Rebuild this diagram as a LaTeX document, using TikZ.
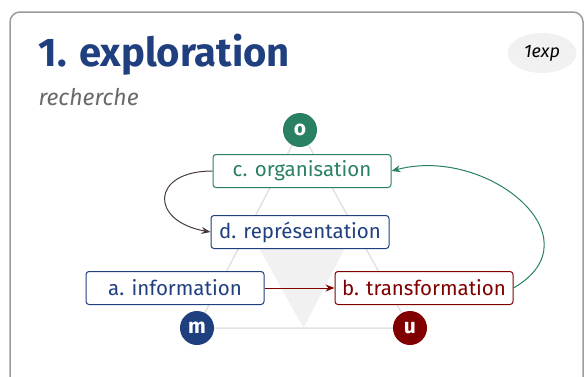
\documentclass[tikz,border=0pt]{standalone}
\usepackage{fontspec}
\setmainfont{Fira Sans}
\usetikzlibrary{arrows.meta,shapes.geometric,calc}
\definecolor{cardgray}{HTML}{9C9C9C}
\definecolor{trigray}{HTML}{E2E2E2}
\definecolor{fillgray}{HTML}{F1F1F1}
\definecolor{inkblue}{HTML}{1F3F7F}
\definecolor{inkgreen}{HTML}{2A8063}
\definecolor{inkred}{HTML}{800000}
\definecolor{inkbrown}{HTML}{4A3A3A}
\definecolor{subgray}{HTML}{6A6A6A}

\tikzset{
  stage/.style={draw, fill=white, rounded corners=3pt, line width=1pt,
    minimum width=178pt, minimum height=33pt, inner sep=0pt,
    font=\fontsize{20.5}{24}\selectfont},
  pole/.style={circle, minimum size=34pt, inner sep=0pt, text=white,
    font=\bfseries\fontsize{21}{24}\selectfont},
  link/.style={line width=1pt, -{Stealth[length=9pt,width=7pt]}},
}

\begin{document}
\begin{tikzpicture}[x=1pt, y=-1pt]
  \useasboundingbox (0,0) rectangle (584,376);
  \clip (0,0) rectangle (584,376);
  \draw[cardgray, line width=1.5pt, rounded corners=10pt] (10,12) rectangle (583,395);

  \node[anchor=base west, inkblue, font=\bfseries\fontsize{40}{46}\selectfont] (title) at (35,66) {1. exploration};
  \node[anchor=base west, subgray, font=\itshape\fontsize{23}{27}\selectfont] (sub) at (35,105) {recherche};
  \node[ellipse, fill=fillgray, minimum width=69pt, minimum height=40pt, inner sep=0pt,
        font=\itshape\fontsize{18}{20}\selectfont] (tag) at (542,53) {1exp};

  \coordinate (po) at (300,130);
  \coordinate (pm) at (197,328);
  \coordinate (pu) at (410,328);
  \fill[fillgray] ($(po)!0.5!(pm)$) -- ($(po)!0.5!(pu)$) -- ($(pm)!0.5!(pu)$) -- cycle;
  \draw[trigray, line width=1.5pt] (po) -- (pm) -- (pu) -- cycle;

  \node[pole, fill=inkgreen] (o) at (po) {o};
  \node[pole, fill=inkblue] (m) at (pm) {m};
  \node[pole, fill=inkred] (u) at (pu) {u};

  \node[stage, draw=inkgreen, text=inkgreen] (c) at (302,171) {c. organisation};
  \node[stage, draw=inkblue, text=inkblue] (d) at (300,232) {d. représentation};
  \node[stage, draw=inkblue, text=inkblue] (a) at (175,288) {a. information};
  \node[stage, draw=inkred, text=inkred] (b) at (424,288) {b. transformation};

  \draw[link, inkbrown] (c.west) to[out=180, in=170, looseness=2.6] (d.west);
  \draw[link, inkred] (a) -- (b);
  \draw[link, inkgreen] (b.east) to[out=30, in=15, looseness=1.5] (c.east);
\end{tikzpicture}
\end{document}
